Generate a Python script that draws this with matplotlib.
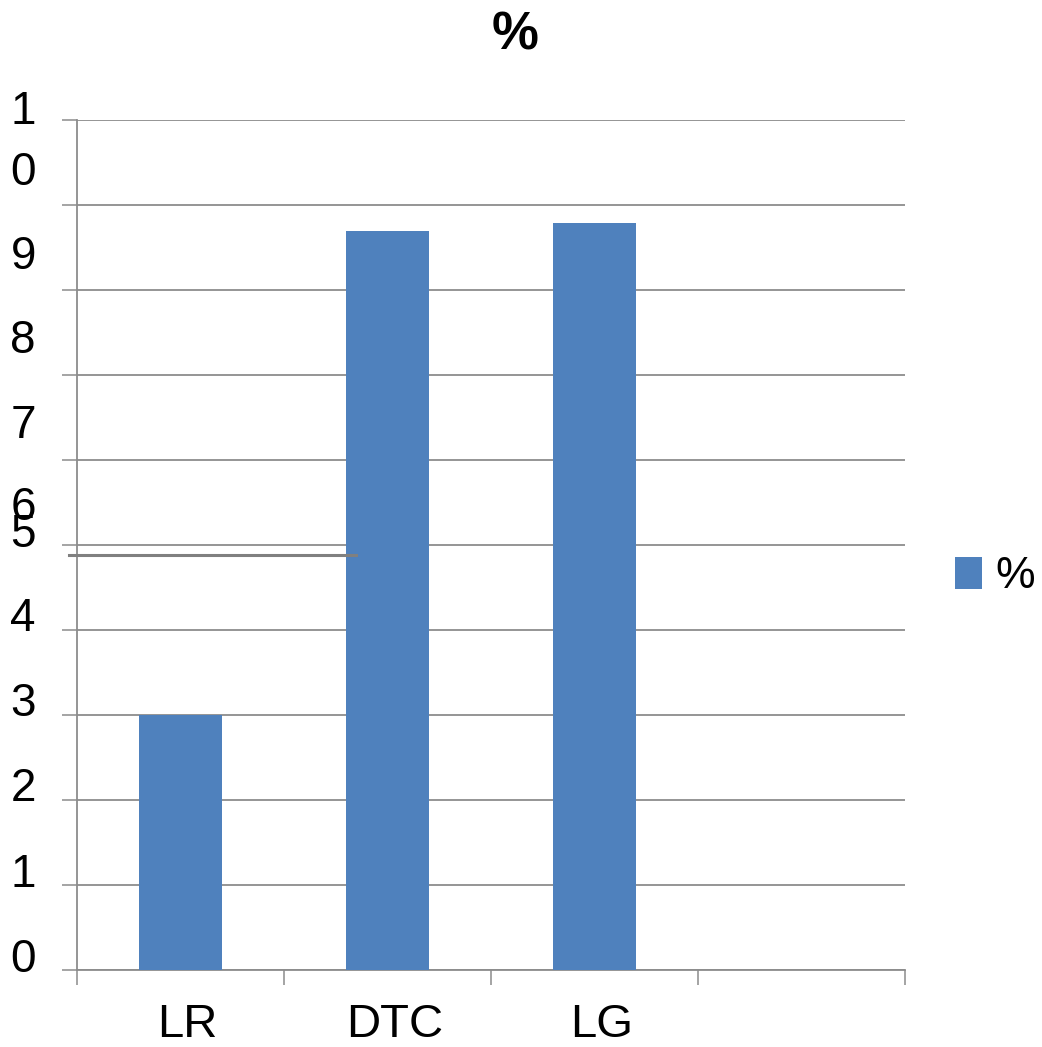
import numpy as np
import matplotlib.pyplot as plt
from matplotlib.transforms import ScaledTranslation

plt.rcParams['font.family'] = ['Liberation Sans', 'DejaVu Sans']

# Chart data
categories = ['LR', 'DTC', 'LG']
values = [3.0, 8.69, 8.79]
series_name = '%'
y_ticks = list(range(11))
y_tick_labels = ['0', '1', '2', '3', '4', '5', '6', '7', '8', '9', '1\n0']
stray_level = 4.88

bar_color = '#4F81BD'
grid_color = '#8c8c8c'

fig = plt.figure(figsize=(10.42, 10.47), dpi=100)
ax = fig.add_axes([77 / 1042, 77 / 1047, 828 / 1042, 850 / 1047])

x = np.arange(len(categories))
bars = ax.bar(x, values, width=0.4, color=bar_color, label=series_name, zorder=3)

ax.set_xlim(-0.5, 3.5)
ax.set_ylim(0, 10)

# gridlines and outward ticks
ax.set_yticks(y_ticks, y_tick_labels)
ax.yaxis.grid(True, color=grid_color, linewidth=1.3, zorder=1)
ax.set_axisbelow(True)
ax.tick_params(axis='y', direction='out', length=10.8, width=1.1, color=grid_color,
               labelsize=33, pad=28)

ax.set_xticks(x, categories)
ax.set_xticks(np.arange(-0.5, 3.6, 1.0), minor=True)
ax.tick_params(axis='x', which='major', length=0, labelsize=34, pad=24)
ax.tick_params(axis='x', which='minor', direction='out', length=10.8, width=1.1,
               color=grid_color)

for side in ['top', 'right']:
    ax.spines[side].set_visible(False)
for side in ['left', 'bottom']:
    ax.spines[side].set_color(grid_color)
    ax.spines[side].set_linewidth(1.3)

# shift the y labels by hand (pixels, positive = down)
y_offsets = [-15, -15, -16, -16, -16, -15, 43, 46, 46, 47, 9]
for lab, off in zip(ax.get_yticklabels(), y_offsets):
    lab.set_transform(lab.get_transform() + ScaledTranslation(0, -off / 100, fig.dpi_scale_trans))
    lab.set_horizontalalignment('center')
    lab.set_linespacing(1.5)

for lab in ax.get_xticklabels():
    lab.set_transform(lab.get_transform() + ScaledTranslation(7 / 100, 0, fig.dpi_scale_trans))

# stray horizontal line across the left part
ax.plot([-0.0097, 0.337], [stray_level, stray_level], color='#808080', linewidth=2.2,
        transform=ax.get_yaxis_transform(), clip_on=False, zorder=4)

fig.text(515 / 1042, 1 - 35 / 1047, '%', fontsize=38, fontweight='bold',
         ha='center', va='center')

fig.legend(handles=[bars], labels=[series_name], loc='center left',
           bbox_to_anchor=(955 / 1042, 1 - 577 / 1047), frameon=False, fontsize=32,
           handlelength=0.6, handleheight=0.7, handletextpad=0.3,
           borderpad=0, borderaxespad=0)

fig.savefig('out.png', dpi=100)
